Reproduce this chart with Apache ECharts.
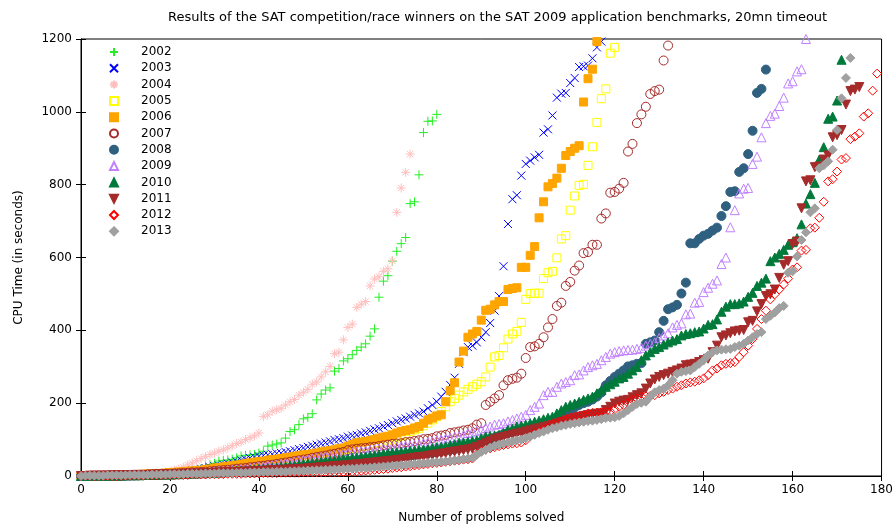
<!DOCTYPE html>
<html><head><meta charset="utf-8">
<script src="https://cdn.jsdelivr.net/npm/echarts@6/dist/echarts.min.js"></script>
<style>html,body{margin:0;padding:0;background:#fff}#c{width:896px;height:529px}</style>
</head><body><div id="c"></div>
<script>
const titleText = 'Results of the SAT competition/race winners on the SAT 2009 application benchmarks, 20mn timeout';
const xTitle = 'Number of problems solved';
const yTitle = 'CPU Time (in seconds)';
const years = ['2002','2003','2004','2005','2006','2007','2008','2009','2010','2011','2012','2013'];

const y2002 = [0,0,0,0,0,1,1,1,1,1,
 2,2,2,3,3,3,4,4,5,5,
 6,7,8,9,11,13,16,20,27,31,
 35,41,43,44,46,50,55,57,58,59,
 63,68,82,85,88,91,104,122,127,141,
 157,161,171,209,225,236,242,288,295,316,
 322,333,345,354,363,384,404,491,535,550,
 590,617,638,655,748,753,827,943,974,975,
 993];
const y2003 = [0,0,1,1,1,1,2,2,2,3,
 3,3,4,4,5,5,6,7,7,8,
 9,10,11,13,14,16,18,20,22,24,
 27,29,31,34,37,40,43,46,49,52,
 54,56,58,60,62,63,66,68,71,74,
 77,80,83,86,89,92,95,99,101,104,
 108,111,113,117,120,124,128,131,136,140,
 145,150,154,158,163,168,172,177,186,195,
 204,218,231,250,270,308,340,354,358,367,
 381,395,420,454,494,576,692,760,771,825,
 857,866,875,882,943,952,990,1039,1050,1052,
 1079,1093,1123,1125,1127,1147,1177,1193];
const y2004 = [0,0,0,0,0,0,1,1,1,1,
 2,2,3,3,4,5,6,7,9,11,
 13,16,19,24,30,36,42,48,53,59,
 63,68,72,77,83,89,93,100,105,110,
 118,163,168,178,182,186,195,204,210,222,
 230,238,252,258,272,286,301,336,340,374,
 408,417,463,472,479,522,541,547,562,569,
 591,724,791,834,884];
const y2005 = [0,0,0,1,1,1,1,2,2,2,
 3,3,3,4,4,5,5,6,6,7,
 8,8,9,10,11,12,13,14,15,16,
 18,19,20,22,23,25,26,28,29,31,
 33,34,36,38,40,42,44,46,48,50,
 52,54,56,58,60,62,64,66,68,70,
 73,76,78,81,84,86,88,91,94,98,
 101,104,110,113,122,127,131,138,145,154,
 163,177,190,204,213,222,231,238,245,252,
 259,272,299,327,331,352,376,390,397,422,
 485,501,502,502,542,558,562,599,651,660,
 730,769,798,801,853,904,971,1036,1063,1161,
 1177];
const y2006 = [0,0,1,1,1,1,2,2,2,3,
 3,3,4,4,5,5,6,7,7,8,
 9,10,11,12,13,14,15,16,18,19,
 22,23,25,27,28,30,32,34,36,38,
 40,41,43,45,46,48,50,52,54,56,
 58,59,61,63,66,68,70,72,75,77,
 82,86,91,93,95,97,100,104,107,109,
 113,118,122,125,127,132,136,145,154,159,
 165,168,204,234,256,313,343,381,390,397,
 428,455,458,470,479,479,512,515,517,573,
 573,606,630,709,753,794,803,818,845,880,
 891,900,907,1027,1091,1117,1193];
const y2007 = [0,0,0,0,1,1,1,1,2,2,
 2,2,3,3,3,4,4,5,5,6,
 6,7,7,8,9,10,10,11,12,13,
 14,15,16,17,18,20,21,22,24,25,
 27,28,30,31,33,35,37,39,41,43,
 45,47,50,52,54,56,59,61,64,66,
 71,73,75,76,77,79,80,82,84,86,
 88,89,90,93,94,96,98,101,102,104,
 109,111,113,118,120,122,125,127,131,141,
 145,195,204,213,222,249,263,267,270,281,
 324,354,356,363,381,408,431,467,476,522,
 533,564,578,612,615,635,635,707,721,778,
 780,789,805,891,912,969,993,1014,1049,1057,
 1061,1141,1182];
const y2008 = [0,0,0,0,0,1,1,1,1,1,
 1,2,2,2,2,3,3,3,3,4,
 4,4,5,5,5,6,6,7,7,8,
 8,9,9,10,10,11,12,12,13,14,
 15,16,16,17,18,19,20,21,22,23,
 24,25,26,27,28,29,30,31,32,33,
 35,36,37,39,40,42,43,45,46,48,
 50,51,53,55,56,58,60,61,63,64,
 66,68,70,72,74,76,79,82,85,88,
 92,96,100,105,110,115,118,121,123,125,
 130,134,137,141,145,148,152,156,163,170,
 181,188,195,200,204,210,218,229,249,261,
 272,281,290,301,304,308,310,363,367,372,
 395,426,458,463,470,501,531,639,639,651,
 660,665,674,682,714,741,780,782,835,845,
 884,948,1052,1063,1116];
const y2009 = [0,0,0,1,1,1,1,1,2,2,
 2,2,3,3,3,4,4,4,5,5,
 6,6,7,7,8,9,9,10,11,12,
 13,14,15,16,17,18,19,20,22,23,
 25,26,28,29,31,33,35,37,40,42,
 44,46,48,50,52,54,55,57,59,61,
 63,65,67,69,70,72,73,75,76,77,
 79,81,82,83,84,85,86,90,93,95,
 98,100,103,105,107,109,112,118,120,124,
 127,132,136,141,143,145,150,154,158,163,
 168,181,190,199,222,231,231,245,254,258,
 263,277,279,290,299,304,308,318,327,336,
 340,343,345,346,347,349,352,358,363,367,
 379,386,392,408,415,419,444,446,476,478,
 505,517,528,537,582,600,683,730,776,789,
 791,857,877,930,969,989,995,1016,1039,1078,
 1084,1111,1117,1200];
const y2010 = [0,0,0,0,1,1,1,1,1,1,
 2,2,2,2,3,3,3,3,4,4,
 4,5,5,6,6,7,7,8,8,9,
 10,10,11,12,13,14,15,16,17,18,
 19,20,21,22,23,25,26,28,29,31,
 33,34,36,37,39,40,42,43,45,47,
 48,50,51,53,54,56,57,59,61,63,
 64,65,66,68,69,70,72,73,74,77,
 79,80,82,85,87,91,92,94,96,98,
 104,109,110,111,113,118,127,130,136,138,
 141,145,149,152,156,160,163,172,181,190,
 195,199,204,209,213,218,227,236,245,252,
 259,268,272,281,290,299,318,331,340,349,
 354,361,367,372,376,386,390,392,395,397,
 405,415,417,430,451,465,472,472,474,479,
 492,503,522,531,542,590,600,610,621,635,
 642,653,691,748,774,805,869,903,981,987,
 1031,1143];
const y2011 = [0,0,1,1,1,1,1,2,2,2,
 2,2,3,3,3,3,4,4,4,5,
 5,5,6,6,6,7,7,7,8,8,
 9,9,10,10,11,11,12,12,13,13,
 14,14,15,16,16,17,17,18,19,19,
 20,21,22,23,24,25,26,27,28,29,
 30,31,32,33,35,36,37,38,40,41,
 42,44,45,47,48,50,52,53,55,57,
 59,61,63,65,67,69,71,73,75,80,
 85,90,95,100,104,107,110,113,116,119,
 122,125,128,131,134,137,140,144,148,152,
 156,159,162,165,167,169,171,172,181,190,
 199,204,207,209,216,222,227,240,254,265,
 272,277,281,286,290,295,304,306,308,313,
 318,322,340,358,381,386,392,397,399,401,
 422,426,452,472,494,499,512,544,580,590,
 637,644,735,809,812,848,850,869,880,930,
 936,950,1020,1057,1061,1068];
const y2012 = [0,0,0,0,0,0,0,0,0,0,
 1,1,1,1,1,2,2,2,2,2,
 3,3,3,3,3,4,4,4,4,5,
 5,5,5,6,6,6,6,7,7,7,
 7,8,8,8,8,9,9,9,9,9,
 10,10,10,10,10,11,11,11,11,11,
 12,12,13,14,15,16,17,18,19,20,
 22,23,24,26,27,29,30,32,33,35,
 36,37,39,40,42,43,45,46,48,60,
 68,72,76,79,82,85,87,89,90,92,
 98,110,118,122,128,133,141,145,150,155,
 159,161,164,167,172,173,174,175,176,177,
 183,190,195,201,209,213,218,219,220,222,
 227,231,236,240,245,249,254,257,259,263,
 268,277,290,295,304,308,310,313,327,340,
 358,376,404,431,454,485,499,512,526,542,
 567,573,619,621,680,682,709,753,809,815,
 836,869,873,925,932,941,987,996,1058,1105];
const y2013 = [0,1,1,1,1,1,2,2,2,2,
 2,3,3,3,3,3,4,4,4,4,
 5,5,5,5,6,6,6,6,7,7,
 7,8,8,8,8,9,9,9,10,10,
 10,11,11,11,12,12,12,13,13,14,
 14,15,15,16,16,17,17,18,18,19,
 20,20,21,22,22,23,24,25,26,27,
 28,29,30,31,32,33,34,35,36,37,
 38,39,40,41,43,44,46,48,50,58,
 66,72,78,83,86,89,92,95,98,100,
 104,108,113,118,122,127,131,134,138,140,
 143,145,147,149,151,152,154,156,159,160,
 161,165,172,181,190,198,201,204,218,230,
 236,240,249,263,281,286,288,290,299,308,
 318,331,340,345,347,348,349,354,358,363,
 372,381,390,395,431,440,449,461,467,558,
 562,603,648,669,724,735,845,853,864,896,
 950,1037,1093,1148];

const xTicks = {min: 0, max: 180, interval: 20};
const yTicks = {min: 0, max: 1200, interval: 200};

const seriesValues = [y2002,y2003,y2004,y2005,y2006,y2007,y2008,y2009,y2010,y2011,y2012,y2013];

const FONT = 'DejaVu Sans';
const PLUS = 'path://M0,5L10,5M5,0L5,10';
const CROSS = 'path://M0,0L10,10M0,10L10,0';
const STAR = 'path://M0,5L10,5M5,0L5,10M1.5,1.5L8.5,8.5M1.5,8.5L8.5,1.5';
const DOWN_TRI = 'path://M0,0L10,0L5,10Z';
const styles = [
  {symbol: PLUS, size: 9, stroke: '#22ee22', fill: 'rgba(0,0,0,0)'},
  {symbol: CROSS, size: 8, stroke: '#0000ff', fill: 'rgba(0,0,0,0)'},
  {symbol: STAR, size: 9, stroke: '#ffbfbf', fill: 'rgba(0,0,0,0)'},
  {symbol: 'rect', size: 8, stroke: '#ffff00', fill: 'rgba(0,0,0,0)'},
  {symbol: 'rect', size: 8, stroke: '#ffa500', fill: '#ffa500'},
  {symbol: 'circle', size: 9, stroke: '#a52a2a', fill: 'rgba(0,0,0,0)'},
  {symbol: 'circle', size: 9, stroke: '#306080', fill: '#306080'},
  {symbol: 'triangle', size: 9, stroke: '#c080ff', fill: 'rgba(0,0,0,0)'},
  {symbol: 'triangle', size: 9, stroke: '#007a3a', fill: '#007a3a'},
  {symbol: DOWN_TRI, size: 9, stroke: '#a52a2a', fill: '#a52a2a'},
  {symbol: 'diamond', size: 9, stroke: '#ff0000', fill: 'rgba(0,0,0,0)'},
  {symbol: 'diamond', size: 9, stroke: '#a0a0a0', fill: '#a0a0a0'}
];

const series = years.map((name, k) => {
  const st = styles[k];
  return {
    name: name,
    type: 'scatter',
    xAxisIndex: 0, yAxisIndex: 0,
    symbol: st.symbol,
    symbolSize: st.size,
    itemStyle: {color: st.fill, borderColor: st.stroke, borderWidth: 1, opacity: 1},
    emphasis: {disabled: true},
    data: seriesValues[k].map((v, i) => [i, v])
  };
});

const chart = echarts.init(document.getElementById('c'), null, {renderer: 'canvas'});
const tickCommon = {show: true, inside: true, length: 5, lineStyle: {color: '#000'}};
chart.setOption({
  animation: false,
  backgroundColor: '#fff',
  title: {text: titleText, left: 163, top: 6, textStyle: {fontFamily: FONT, fontSize: 13, fontWeight: 'normal', color: '#000'}},
  grid: {left: 81, right: 14, top: 39, bottom: 49, show: true, borderColor: '#000', borderWidth: 1},
  legend: {
    orient: 'vertical', left: 109, top: 46, padding: 0, itemWidth: 8, itemHeight: 8, itemGap: 4.3,
    data: years, textStyle: {fontFamily: FONT, fontSize: 12, color: '#000', padding: [0, 0, 0, 18]}
  },
  xAxis: [
    {type: 'value', min: xTicks.min, max: xTicks.max, interval: xTicks.interval, position: 'bottom',
     name: xTitle, nameLocation: 'middle', nameGap: 36, nameTextStyle: {fontFamily: FONT, fontSize: 12, color: '#000'},
     axisLine: {show: true, lineStyle: {color: '#000'}}, axisTick: tickCommon,
     axisLabel: {fontFamily: FONT, fontSize: 12, color: '#000', margin: 8, formatter: v => String(v)}, splitLine: {show: false}},
    {type: 'value', min: xTicks.min, max: xTicks.max, interval: xTicks.interval, position: 'top',
     axisLine: {show: true, lineStyle: {color: '#000'}}, axisTick: tickCommon,
     axisLabel: {show: false}, splitLine: {show: false}}
  ],
  yAxis: [
    {type: 'value', min: yTicks.min, max: yTicks.max, interval: yTicks.interval, position: 'left',
     name: yTitle, nameLocation: 'middle', nameGap: 56, nameTextStyle: {fontFamily: FONT, fontSize: 12, color: '#000'},
     axisLine: {show: true, lineStyle: {color: '#000'}}, axisTick: tickCommon,
     axisLabel: {fontFamily: FONT, fontSize: 12, color: '#000', margin: 9, formatter: v => String(v)}, splitLine: {show: false}},
    {type: 'value', min: yTicks.min, max: yTicks.max, interval: yTicks.interval, position: 'right',
     axisLine: {show: true, lineStyle: {color: '#000'}}, axisTick: tickCommon,
     axisLabel: {show: false}, splitLine: {show: false}}
  ],
  series: series
});
</script>
</body></html>
